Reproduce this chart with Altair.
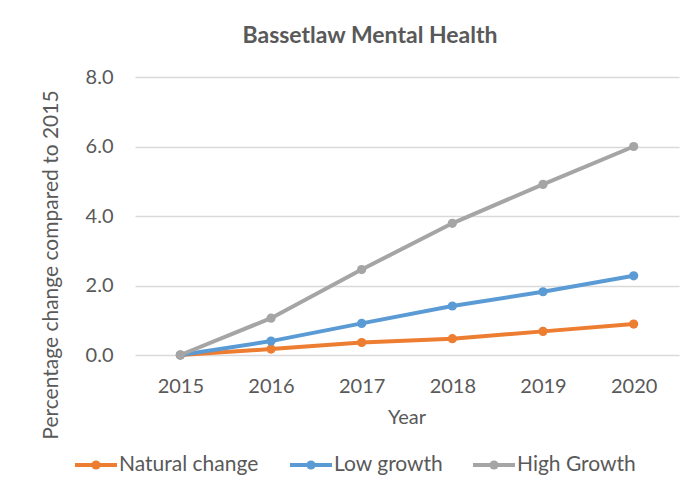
import altair as alt
import pandas as pd

# ---- data ----
years = ["2015", "2016", "2017", "2018", "2019", "2020"]
series = ["Natural change", "Low growth", "High Growth"]
natural_change = [0.0, 0.17, 0.36, 0.47, 0.68, 0.89]
low_growth = [0.0, 0.40, 0.91, 1.41, 1.82, 2.28]
high_growth = [0.0, 1.06, 2.46, 3.79, 4.91, 6.00]
y_ticks = [0, 2, 4, 6, 8]
colors = ["#ED7D31", "#5B9BD5", "#A5A5A5"]
chart_title = "Bassetlaw Mental Health"
x_title = "Year"
y_title = "Percentage change compared to 2015"

rows = []
for s, vals in zip(series, [natural_change, low_growth, high_growth]):
    for yr, v in zip(years, vals):
        rows.append({"Year": yr, "Series": s, "Value": v})
df = pd.DataFrame(rows)

W, H = 544, 278
FONT = "Lato"
GREY = "#595959"
FS = 20

color_scale = alt.Scale(domain=series, range=colors)
x_enc = alt.X("Year:O", scale=alt.Scale(type="point", padding=0.5), sort=years,
              axis=alt.Axis(title=None, labelAngle=0, ticks=False, domain=False, grid=False,
                            labelFont=FONT, labelFontSize=FS, labelColor=GREY, labelPadding=21))
y_enc = alt.Y("Value:Q", scale=alt.Scale(domain=[0, 8], nice=False),
              axis=alt.Axis(title=None, values=y_ticks, format=".1f", ticks=False, domain=False,
                            gridColor="#D9D9D9", gridWidth=1.5,
                            labelFont=FONT, labelFontSize=FS, labelColor=GREY, labelPadding=22))

layers = []
for s in series:
    sub = alt.Chart(df[df["Series"] == s]).encode(
        x=x_enc, y=y_enc,
        color=alt.Color("Series:N", scale=color_scale, legend=None))
    layers.append(sub.mark_line(strokeWidth=4))
    layers.append(sub.mark_point(filled=True, size=85, opacity=1))

# title
layers.append(alt.Chart(pd.DataFrame({"t": [chart_title]})).mark_text(
    font=FONT, fontSize=23, fontWeight="bold", color=GREY, align="center", baseline="middle"
).encode(text="t:N", x=alt.value(235), y=alt.value(-41)))
# x title
layers.append(alt.Chart(pd.DataFrame({"t": [x_title]})).mark_text(
    font=FONT, fontSize=FS, color=GREY, align="center", baseline="middle"
).encode(text="t:N", x=alt.value(W / 2), y=alt.value(341)))
# y title
layers.append(alt.Chart(pd.DataFrame({"t": [y_title]})).mark_text(
    font=FONT, fontSize=21, color=GREY, align="center", baseline="middle", angle=270
).encode(text="t:N", x=alt.value(-83), y=alt.value(188)))

# legend
leg_x = [-60, 155, 338]
leg_y = 388
for s, c, lx in zip(series, colors, leg_x):
    d = pd.DataFrame({"t": [s]})
    layers.append(alt.Chart(d).mark_rule(color=c, strokeWidth=4).encode(
        x=alt.value(lx), x2=alt.value(lx + 42), y=alt.value(leg_y)))
    layers.append(alt.Chart(d).mark_point(filled=True, size=85, opacity=1, color=c).encode(
        x=alt.value(lx + 21), y=alt.value(leg_y)))
    layers.append(alt.Chart(d).mark_text(
        font=FONT, fontSize=21, color=GREY, align="left", baseline="middle"
    ).encode(text="t:N", x=alt.value(lx + 44), y=alt.value(leg_y)))

chart = alt.layer(*layers).properties(
    width=W, height=H,
    padding={"left": 127, "top": 69, "right": 6, "bottom": 133},
    autosize=alt.AutoSizeParams(type="none"),
).configure_view(stroke=None)

chart.save("out.html", embed_options={"renderer": "svg", "actions": False})
